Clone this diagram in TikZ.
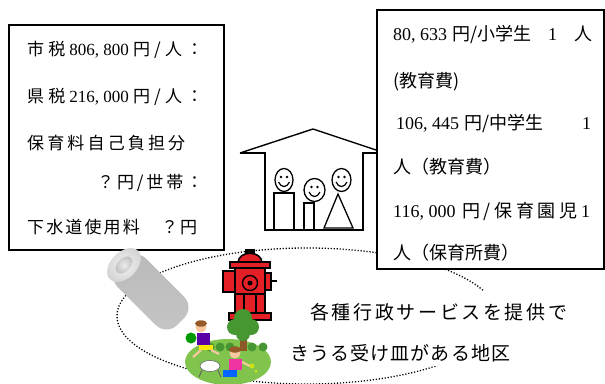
\documentclass[tikz,border=0pt]{standalone}
\usepackage{fontspec}
\setmainfont{Liberation Serif}
\newfontfamily\jp{Noto Sans CJK JP}
\newfontfamily\lat{Liberation Serif}
% set a line to a given width, spreading its items evenly
\ExplSyntaxOn
\NewDocumentCommand\spread{mm}{\hbox to #1{\tl_map_inline:nn{#2}{{##1}\hfil}\unskip}}
\ExplSyntaxOff
\definecolor{hred}{RGB}{228,32,38}
\definecolor{grass}{RGB}{128,196,78}
\definecolor{leaf}{RGB}{70,150,50}
\definecolor{bark}{RGB}{140,90,40}
\definecolor{skin}{RGB}{246,200,160}
\definecolor{hair}{RGB}{150,90,40}
\begin{document}
\begin{tikzpicture}[x=1pt,y=-1pt,
  panel/.style={draw=black,line width=1.8pt,fill=white,inner sep=0pt,anchor=north west},
  txt/.style={inner sep=0pt,anchor=west,font=\jp\fontsize{17}{20}\selectfont},
  srvtxt/.style={txt,font=\jp\fontsize{18}{21}\selectfont},
  captxt/.style={txt,font=\jp\fontsize{19}{22}\selectfont},
  wall/.style={line width=1.4pt,line join=miter},
  figure/.style={line width=1.3pt,fill=white},
  hydr/.style={fill=hred,draw=black,line width=1.6pt},
  ring/.style={line width=1.3pt,dash pattern=on 1.2pt off 1.8pt}]
\useasboundingbox (0,0) rectangle (605,383);

% dotted outline of the district
\draw[ring] (307,316) ellipse [x radius=190, y radius=68];

% burden box (left) and services box (right)
\node[panel,minimum width=215,minimum height=225] (taxbox) at (8,24) {};
\node[panel,minimum width=227,minimum height=259] (servbox) at (376,9) {};

\node[txt] (tax1) at (27,50) {\spread{176pt}{市税{\lat 806,~800}円/人：}};
\node[txt] (tax2) at (27,97) {\spread{176pt}{県税{\lat 216,~000}円/人：}};
\node[txt] (tax3) at (27,143) {\spread{158pt}{保育料自己負担分}};
\node[txt] (tax4) at (97,183) {\spread{106pt}{？円/世帯：}};
\node[txt] (tax5) at (27,227) {\spread{170pt}{下水道使用料　？円}};

\node[srvtxt] (srv1) at (393,35) {\spread{199pt}{{{\lat 80,~633}\kern5pt 円/小学生}{\lat 1}{人}}};
\node[srvtxt] (srv2) at (393,82) {(教育費)};
\node[srvtxt] (srv3) at (396,124) {\spread{195pt}{{{\lat 106,~445}\kern5pt 円/中学生}{\lat 1}}};
\node[srvtxt] (srv4) at (393,167) {人（教育費）};
\node[srvtxt] (srv5) at (393,212) {\spread{197pt}{{\lat 116,~000\,}円/保育園児{\lat 1}}};
\node[srvtxt] (srv6) at (393,253) {人（保育所費）};

% house with the family
\draw[wall] (240,153) -- (313,129) -- (servbox.west |- 0,150);
\draw[wall] (240,153) -- (265,153) -- (265,230) -- (363,230) -- (363,153) -- (servbox.west |- 0,153);
\draw[figure] (274,193) rectangle (294,230);
\draw[figure] (304,203) rectangle (314,230);
\draw[figure,line join=miter] (338,194) -- (353,228) -- (324,228) -- cycle;
\foreach \cx/\cy/\rx/\ry in {284/180/9/11.5, 314.5/190/10.5/11.5, 341.5/180/9.5/11.5}{
  \draw[figure] (\cx,\cy) ellipse [x radius=\rx, y radius=\ry];
  \fill (\cx-3,\cy-3) circle[radius=1.4] (\cx+3,\cy-3) circle[radius=1.4];
  \draw[line width=1.2pt] (\cx-5.5,\cy+2) .. controls (\cx-3,\cy+8) and (\cx+3,\cy+8) .. (\cx+5.5,\cy+2);
}

% pipe
\begin{scope}[shift={(124,265)},rotate=-45]
\shade[top color=gray!55,middle color=gray!8,bottom color=gray!45,rounded corners=15]
  (-4,-20) rectangle (80,20);
\shade[inner color=gray!10,outer color=gray!35] (0,0) ellipse [x radius=13, y radius=20];
\shade[inner color=gray!15,outer color=gray!50] (0,0) ellipse [x radius=6.5, y radius=10];
\end{scope}

% fire hydrant
\fill (245,249) rectangle (255,254);
\draw[hydr] (238,263) .. controls (238,250) and (262,250) .. (262,263) -- cycle;
\draw[hydr] (223,271) rectangle (236,292);
\draw[hydr] (264,273) rectangle (271,290);
\draw[line width=2.2pt] (271,281) -- (277,281);
\draw[hydr] (235,268) rectangle (265,314);
\draw[hydr] (230,262) rectangle (270,268);
\draw[hydr] (229,313) rectangle (271,320);
\draw[line width=1.4pt] (250,283) circle[radius=7.5];
\fill (250,283) circle[radius=2.5];
\draw[line width=1.4pt] (235,294) -- (265,294) (244,294) -- (244,313) (256,294) -- (256,313);

% children playing on the grass
\fill[grass] (228,362) ellipse [x radius=43, y radius=23];
\foreach \bx in {210,220,230,252,263}{\fill[leaf] (\bx,347) circle[radius=4.5];}
\fill[bark] (240,333) rectangle (247,351);
\foreach \px/\py/\pr in {243/318/9,235/327/8,251/327/8,243/334/7}{\fill[leaf] (\px,\py) circle[radius=\pr];}
% first child with a ball
\fill[skin] (201,327) circle[radius=5.5];
\fill[hair] (201,323.5) ellipse [x radius=6, y radius=3.2];
\fill[violet!70!blue] (197,333) rectangle (210,345);
\fill[yellow!90!orange] (199,345) rectangle (213,350);
\draw[skin,line width=2.2pt] (201,350) -- (193,357) (211,350) -- (219,354);
\fill[green!60!black] (191,338) circle[radius=5.5];
% dog
\fill[white,draw=black!60,line width=0.6pt] (210,366) ellipse [x radius=10, y radius=5.5];
\draw[black!60,line width=1pt] (202,370) -- (199,377) (218,370) -- (221,377);
% second child
\fill[skin] (235,353) circle[radius=5.5];
\fill[hair] (235,349.5) ellipse [x radius=6, y radius=3.2];
\fill[magenta!80] (229,359) rectangle (242,370);
\fill[blue!60!cyan] (223,370) rectangle (237,377);
\draw[skin,line width=2.2pt] (242,362) -- (250,366);
\fill[yellow!80!green] (252,366) circle[radius=2.5] (256,371) circle[radius=1.5];

% caption of the district
\fill[white] (286,291) rectangle (580,366);
\node[captxt] (cap1) at (310,312) {\spread{257pt}{各種行政サービスを提供で}};
\node[captxt] (cap2) at (290,353) {\spread{220pt}{きうる受け皿がある地区}};
\end{tikzpicture}
\end{document}
